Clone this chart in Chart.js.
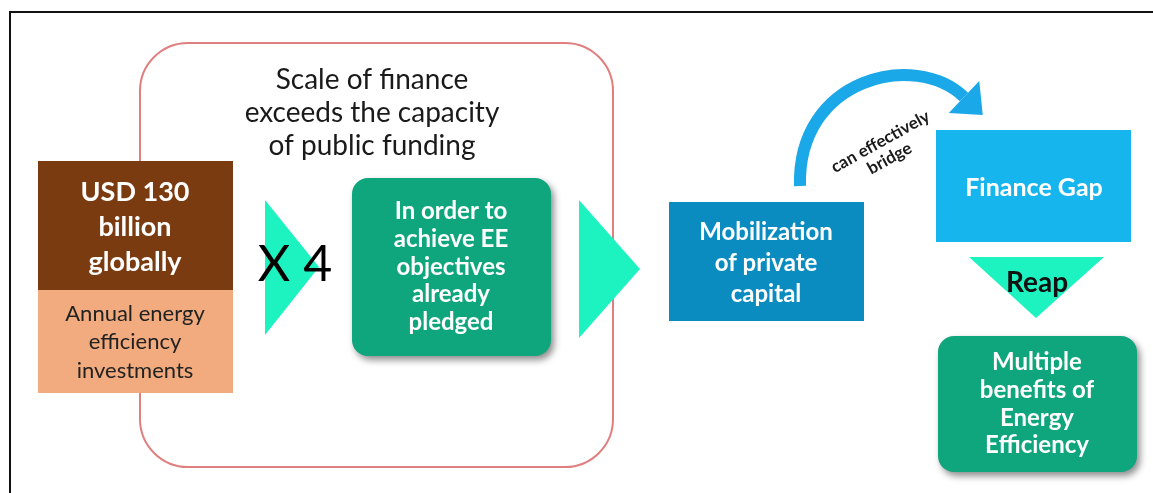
<!DOCTYPE html>
<html>
<head>
<meta charset="utf-8">
<script src="https://cdn.jsdelivr.net/npm/chart.js@4.4.1/dist/chart.umd.min.js"></script>
<style>
  html, body { margin: 0; padding: 0; background: #fff; }
  #wrap { width: 1153px; height: 493px; position: relative; }
</style>
</head>
<body>
<div id="wrap"><canvas id="diagram"></canvas></div>
<script>
// text content of the diagram
var titleLines = ['Scale of finance', 'exceeds the capacity', 'of public funding'];
var totalLines = ['USD 130', 'billion', 'globally'];
var totalNote = ['Annual energy', 'efficiency', 'investments'];
var multiplier = ['X 4'];
var pledgeLines = ['In order to', 'achieve EE', 'objectives', 'already', 'pledged'];
var mobilizeLines = ['Mobilization', 'of private', 'capital'];
var bridgeLines = ['can effectively', 'bridge'];
var gapLines = ['Finance Gap'];
var reapLines = ['Reap'];
var benefitLines = ['Multiple', 'benefits of', 'Energy', 'Efficiency'];

// layout, in axis units (x 0..1153, y 0..493 top-down)
var boxes = [
    {x0: 140, y0: 43, x1: 613, y1: 467, r: 48, stroke: '#e07f7f', lw: 2},
    {x0: 38, y0: 161, x1: 233, y1: 290, r: 0, fill: '#7b3b10'},
    {x0: 38, y0: 290, x1: 233, y1: 393, r: 0, fill: '#f1ab7e'},
    {x0: 352, y0: 178, x1: 551, y1: 356, r: 16, fill: '#0fa57d', shadow: true},
    {x0: 669, y0: 202, x1: 864, y1: 321, r: 0, fill: '#0b8cc1'},
    {x0: 936, y0: 130, x1: 1131, y1: 242, r: 0, fill: '#17b5ee'},
    {x0: 938, y0: 336, x1: 1137, y1: 472, r: 16, fill: '#0fa57d', shadow: true}
];
var triangles = [
    [[265, 200], [319, 267], [265, 335]],
    [[579, 200], [640, 269], [579, 338]],
    [[969, 257], [1104, 257], [1036, 318]]
];
var texts = [
    {lines: titleLines, x: 372, y: 113, lh: 33, font: '400 28px Lato', color: '#1a1a1a'},
    {lines: totalLines, x: 135, y: 227, lh: 35, font: '700 27px Lato', color: '#ffffff'},
    {lines: totalNote, x: 135, y: 342, lh: 28.5, font: '400 22px Lato', color: '#222222'},
    {lines: multiplier, x: 295, y: 265, lh: 40, font: '400 50px Lato', color: '#000000'},
    {lines: pledgeLines, x: 451, y: 267, lh: 27.7, font: '700 24px Lato', color: '#ffffff'},
    {lines: mobilizeLines, x: 766, y: 263, lh: 31, font: '700 24px Lato', color: '#ffffff'},
    {lines: gapLines, x: 1034, y: 188, lh: 30, font: '700 25px Lato', color: '#ffffff'},
    {lines: reapLines, x: 1037, y: 283, lh: 30, font: '700 28px Lato', color: '#111111'},
    {lines: benefitLines, x: 1037, y: 404, lh: 27.7, font: '700 24px Lato', color: '#ffffff'},
    {lines: bridgeLines, x: 885, y: 150, lh: 19, font: '700 17px Lato', color: '#1a1a1a', angle: -29}
];
var bridgeArc = [[800, 186], [797, 78], [915, 50], [964, 97]];

function roundRect(ctx, x0, y0, x1, y1, r) {
    ctx.beginPath();
    ctx.moveTo(x0 + r, y0);
    ctx.lineTo(x1 - r, y0);
    ctx.arcTo(x1, y0, x1, y0 + r, r);
    ctx.lineTo(x1, y1 - r);
    ctx.arcTo(x1, y1, x1 - r, y1, r);
    ctx.lineTo(x0 + r, y1);
    ctx.arcTo(x0, y1, x0, y1 - r, r);
    ctx.lineTo(x0, y0 + r);
    ctx.arcTo(x0, y0, x0 + r, y0, r);
    ctx.closePath();
}

var diagramPlugin = {
    id: 'diagram',
    afterDraw: function (chart) {
        var ctx = chart.ctx;
        var sx = chart.scales.x, sy = chart.scales.y;
        var px = function (v) { return sx.getPixelForValue(v); };
        var py = function (v) { return sy.getPixelForValue(v); };

        ctx.save();

        // outer frame (top and left edges)
        ctx.strokeStyle = '#111';
        ctx.lineWidth = 2;
        ctx.beginPath();
        ctx.moveTo(px(10), py(493));
        ctx.lineTo(px(10), py(12));
        ctx.lineTo(px(1153), py(12));
        ctx.stroke();

        boxes.forEach(function (b) {
            roundRect(ctx, px(b.x0), py(b.y0), px(b.x1), py(b.y1), b.r);
            if (b.fill) {
                ctx.save();
                if (b.shadow) {
                    ctx.shadowColor = 'rgba(0,0,0,0.45)';
                    ctx.shadowBlur = 7;
                    ctx.shadowOffsetX = 3;
                    ctx.shadowOffsetY = 4;
                }
                ctx.fillStyle = b.fill;
                ctx.fill();
                ctx.restore();
            }
            if (b.stroke) {
                ctx.strokeStyle = b.stroke;
                ctx.lineWidth = b.lw;
                ctx.stroke();
            }
        });

        ctx.fillStyle = '#1cf3c0';
        triangles.forEach(function (t) {
            ctx.beginPath();
            ctx.moveTo(px(t[0][0]), py(t[0][1]));
            ctx.lineTo(px(t[1][0]), py(t[1][1]));
            ctx.lineTo(px(t[2][0]), py(t[2][1]));
            ctx.closePath();
            ctx.fill();
        });

        // curved arrow
        var a = bridgeArc;
        ctx.strokeStyle = '#1aa8e8';
        ctx.lineWidth = 12;
        ctx.beginPath();
        ctx.moveTo(px(a[0][0]), py(a[0][1]));
        ctx.bezierCurveTo(px(a[1][0]), py(a[1][1]), px(a[2][0]), py(a[2][1]), px(a[3][0]), py(a[3][1]));
        ctx.stroke();
        var ex = px(a[3][0]), ey = py(a[3][1]);
        var dx = ex - px(a[2][0]), dy = ey - py(a[2][1]);
        var len = Math.sqrt(dx * dx + dy * dy);
        dx /= len; dy /= len;
        ctx.fillStyle = '#1aa8e8';
        ctx.beginPath();
        ctx.moveTo(ex + dx * 26, ey + dy * 26);
        ctx.lineTo(ex - dy * 22, ey + dx * 22);
        ctx.lineTo(ex + dy * 22, ey - dx * 22);
        ctx.closePath();
        ctx.fill();

        texts.forEach(function (t) {
            ctx.save();
            ctx.translate(px(t.x), py(t.y));
            if (t.angle) ctx.rotate(t.angle * Math.PI / 180);
            ctx.font = t.font;
            ctx.fillStyle = t.color;
            ctx.textAlign = 'center';
            ctx.textBaseline = 'middle';
            var top = -(t.lines.length - 1) * t.lh / 2;
            t.lines.forEach(function (line, i) {
                ctx.fillText(line, 0, top + i * t.lh);
            });
            ctx.restore();
        });

        ctx.restore();
    }
};

new Chart(document.getElementById('diagram'), {
    type: 'scatter',
    data: {datasets: [{data: [], pointRadius: 0}]},
    options: {
        responsive: true,
        maintainAspectRatio: false,
        animation: false,
        layout: {padding: 0},
        scales: {
            x: {type: 'linear', min: 0, max: 1153, display: false},
            y: {type: 'linear', min: 0, max: 493, reverse: true, display: false}
        },
        plugins: {legend: {display: false}, tooltip: {enabled: false}}
    },
    plugins: [diagramPlugin]
});
</script>
</body>
</html>
